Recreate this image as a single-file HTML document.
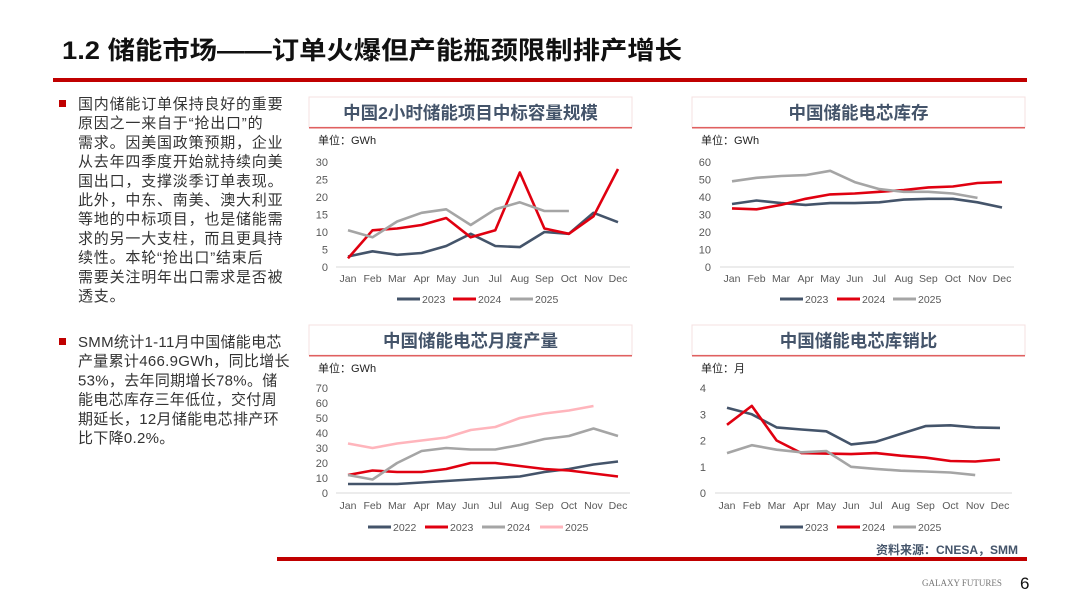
<!DOCTYPE html>
<html><head><meta charset="utf-8">
<style>
body{margin:0;width:1080px;height:608px;background:#fff;overflow:hidden;font-family:"Liberation Sans","Noto Sans CJK SC",sans-serif;}
svg{position:absolute;left:0;top:0}
</style></head>
<body>
<svg id="s" width="1080" height="608" xmlns="http://www.w3.org/2000/svg" font-family="Liberation Sans, Noto Sans CJK SC, sans-serif">
  <text x="62" y="59" font-size="25" font-weight="bold" fill="#111" textLength="620" lengthAdjust="spacingAndGlyphs">1.2 储能市场——订单火爆但产能瓶颈限制排产增长</text>
  <rect x="53" y="78" width="974" height="4" fill="#c00000"/>
  <rect x="277" y="557" width="750" height="4" fill="#c00000"/>
  <text x="1018" y="554" font-size="12" font-weight="bold" fill="#44546a" text-anchor="end">资料来源：CNESA，SMM</text>
  <text x="922" y="586" font-size="9" fill="#777" font-family="Liberation Serif, serif">GALAXY FUTURES</text>
  <text x="1020" y="589" font-size="17" fill="#111">6</text>
  <g id="left"></g>
  <g id="charts"></g>
</svg>
<script>
const NS='http://www.w3.org/2000/svg';
const months=['Jan','Feb','Mar','Apr','May','Jun','Jul','Aug','Sep','Oct','Nov','Dec'];
// Chart 1: 2h storage bid capacity (GWh)
const c1_2023=[3,4.5,3.5,4,6,9.5,6,5.7,10,9.5,15.5,12.8];
const c1_2024=[2.5,10.5,11,12,14,8.5,10.5,27,11,9.5,14.5,28];
const c1_2025=[10.5,8.5,13,15.5,16.5,12,16.5,18.5,16,16];
const c1_ticks=[0,5,10,15,20,25,30];
// Chart 2: cell inventory (GWh)
const c2_2023=[36,38,36.5,35.5,36.5,36.5,37,38.5,39,39,37,34];
const c2_2024=[33.5,33,35.5,39,41.5,42,43,44,45.5,46,48,48.5];
const c2_2025=[49,51,52,52.5,55,48.5,44.5,43,43,42,39.5];
const c2_ticks=[0,10,20,30,40,50,60];
// Chart 3: monthly cell output (GWh)
const c3_2022=[6,6,6,7,8,9,10,11,14,16,19,21];
const c3_2023=[12,15,14,14,16,20,20,18,16,15,13,11];
const c3_2024=[12,9,20,28,30,29,29,32,36,38,43,38];
const c3_2025=[33,30,33,35,37,42,44,50,53,55,58];
const c3_ticks=[0,10,20,30,40,50,60,70];
// Chart 4: inventory-to-sales ratio (months)
const c4_2023=[3.25,3.0,2.5,2.42,2.35,1.85,1.95,2.25,2.55,2.58,2.5,2.48];
const c4_2024=[2.6,3.32,2.0,1.52,1.5,1.48,1.52,1.42,1.35,1.22,1.2,1.28];
const c4_2025=[1.52,1.82,1.65,1.55,1.6,1.0,0.92,0.85,0.82,0.78,0.68];
const c4_ticks=[0,1,2,3,4];

const DARK='#44546a',RED='#e00010',GRAY='#a5a5a5',PINK='#ffb5bc';
function el(tag,attrs,parent,txt){const e=document.createElementNS(NS,tag);for(const k in attrs)e.setAttribute(k,attrs[k]);if(txt!==undefined)e.textContent=txt;parent.appendChild(e);return e;}

const left=document.getElementById('left');
const p1=['国内储能订单保持良好的重要','原因之一来自于“抢出口”的','需求。因美国政策预期，企业','从去年四季度开始就持续向美','国出口，支撑淡季订单表现。','此外，中东、南美、澳大利亚','等地的中标项目，也是储能需','求的另一大支柱，而且更具持','续性。本轮“抢出口”结束后','需要关注明年出口需求是否被','透支。'];
const p2=['SMM统计1-11月中国储能电芯','产量累计466.9GWh，同比增长','53%，去年同期增长78%。储','能电芯库存三年低位，交付周','期延长，12月储能电芯排产环','比下降0.2%。'];
[[p1,104,0.8],[p2,342,0.3]].forEach(([lines,y0,ls])=>{
  const b=el('rect',{x:59,y:y0-4,width:7,height:7,fill:'#c00000'},left);
  
  
  lines.forEach((t,i)=>{
    const tx=el('text',{x:78,y:y0+5+i*19.2,'font-size':15,'letter-spacing':ls,fill:'#333'},left,t);
    
    
  });
});

function chart(cfg){
  const g=el('g',{},document.getElementById('charts'));
  
  
  const tb=el('rect',{x:cfg.bx,y:cfg.ty-30,width:cfg.bw,height:30,fill:'none',stroke:'#f6e0e0','stroke-width':1},g);
  
  
  const tl=el('rect',{x:cfg.bx,y:cfg.ty,width:cfg.bw,height:1.5,fill:'#e06060'},g);
  
  
  const tt=el('text',{x:cfg.bx+cfg.bw/2,y:cfg.ty-8,'font-size':17.5,'font-weight':'bold',fill:DARK,'text-anchor':'middle'},g,cfg.title);
  
  
  const ut=el('text',{x:cfg.bx+9,y:cfg.ty+17,'font-size':11,fill:'#222'},g,cfg.unit);
  
  
  const ticks=cfg.ticks,ymax=ticks[ticks.length-1];
  const Y=v=>cfg.y0-(v/ymax)*(cfg.y0-cfg.y1);
  const X=i=>cfg.x0+i*(cfg.x1-cfg.x0)/11;
  const ax=el('line',{x1:cfg.x0-12,x2:cfg.x1+12,y1:cfg.y0,y2:cfg.y0,stroke:'#d9d9d9','stroke-width':1},g);
  
  
  ticks.forEach(t=>{
    const tk=el('text',{x:cfg.lx,y:Y(t)+4,'font-size':11,fill:'#595959','text-anchor':'end'},g,String(t));
    
    
  });
  months.forEach((m,i)=>{
    const mk=el('text',{x:X(i),y:cfg.my,'font-size':10.5,fill:'#595959','text-anchor':'middle'},g,m);
    
    
  });
  cfg.series.forEach((s,si)=>{
    const pts=s.data.map((v,i)=>X(i).toFixed(1)+','+Y(v).toFixed(1)).join(' ');
    const pl=el('polyline',{points:pts,fill:'none',stroke:s.color,'stroke-width':2.6,'stroke-linejoin':'round'},g);
    
    
    const lx=cfg.legX[si];
    const ll=el('line',{x1:lx,x2:lx+23,y1:cfg.legY,y2:cfg.legY,stroke:s.color,'stroke-width':3},g);
    
    
    const lt=el('text',{x:lx+25,y:cfg.legY+4,'font-size':10.5,fill:'#595959'},g,s.label);
    
    
  });
}
chart({name:'chart-2h-bid-capacity',title:'中国2小时储能项目中标容量规模',unit:'单位：GWh',bx:309,bw:323,ty:127,x0:348,x1:618,y0:267,y1:162,lx:328,my:282,ticks:c1_ticks,legY:299,legX:[397,453,510],
  series:[{label:'2023',data:c1_2023,color:DARK},{label:'2024',data:c1_2024,color:RED},{label:'2025',data:c1_2025,color:GRAY}]});
chart({name:'chart-cell-inventory',title:'中国储能电芯库存',unit:'单位：GWh',bx:692,bw:333,ty:127,x0:732,x1:1002,y0:267,y1:162,lx:711,my:282,ticks:c2_ticks,legY:299,legX:[780,837,893],
  series:[{label:'2023',data:c2_2023,color:DARK},{label:'2024',data:c2_2024,color:RED},{label:'2025',data:c2_2025,color:GRAY}]});
chart({name:'chart-cell-monthly-output',title:'中国储能电芯月度产量',unit:'单位：GWh',bx:309,bw:323,ty:355,x0:348,x1:618,y0:493,y1:388,lx:328,my:509,ticks:c3_ticks,legY:527,legX:[368,425,482,540],
  series:[{label:'2022',data:c3_2022,color:DARK},{label:'2023',data:c3_2023,color:RED},{label:'2024',data:c3_2024,color:GRAY},{label:'2025',data:c3_2025,color:PINK}]});
chart({name:'chart-inventory-sales-ratio',title:'中国储能电芯库销比',unit:'单位：月',bx:692,bw:333,ty:355,x0:727,x1:1000,y0:493,y1:388,lx:706,my:509,ticks:c4_ticks,legY:527,legX:[780,837,893],
  series:[{label:'2023',data:c4_2023,color:DARK},{label:'2024',data:c4_2024,color:RED},{label:'2025',data:c4_2025,color:GRAY}]});
</script>
</body></html>
